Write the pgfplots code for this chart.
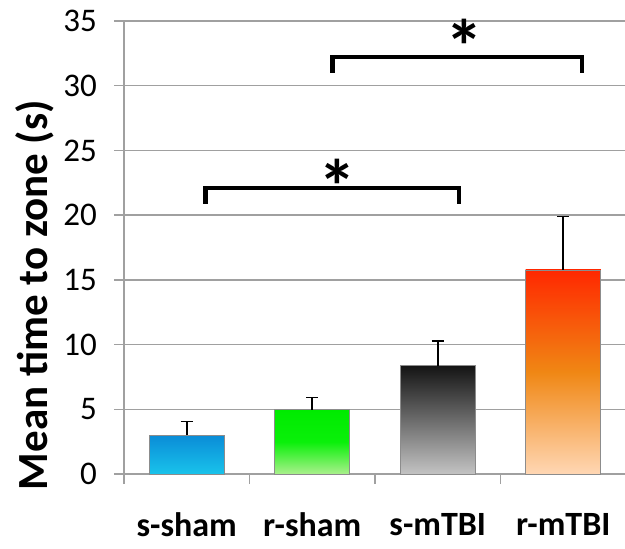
\documentclass[border=0pt]{standalone}
\usepackage{pgfplots}
\pgfplotsset{compat=1.18}
\usepackage{fontspec}
\setmainfont{Carlito}
\definecolor{gridgray}{RGB}{160,160,160}
\begin{document}
\begin{tikzpicture}
\begin{axis}[
  name=ax,
  scale only axis,
  width=251pt, height=226.5pt,
  xmin=-0.5, xmax=3.5,
  ymin=0, ymax=35,
  ytick={0,5,...,35},
  ymajorgrids,
  grid style={gridgray, line width=0.75pt},
  axis x line*=bottom, axis y line*=left,
  axis line style={gridgray, line width=0.75pt, -},
  tick align=outside,
  major tick length=5pt,
  tick style={gridgray, line width=0.75pt},
  xtick={-0.5,0.5,1.5,2.5,3.5},
  xticklabels={},
  extra x ticks={0,1,2,3},
  extra x tick labels={s-sham,r-sham,s-mTBI,r-mTBI},
  extra x tick style={major tick length=0pt, grid=none,
    xticklabel style={font=\fontsize{17}{17}\selectfont\bfseries, yshift=-16pt}},
  yticklabel style={font=\fontsize{16.5}{16.5}\selectfont, xshift=-5pt},
  /pgf/number format/assume math mode=true,
  ylabel={Mean time to zone (s)},
  ylabel style={font=\fontsize{21.5}{21.5}\selectfont\bfseries, at={(axis description cs:-0.177,0.395)}, anchor=center, rotate=0},
  ybar, bar width=0.6, bar shift=0pt,
  error bars/error bar style={black, line width=0.8pt},
  error bars/error mark options={black, rotate=90, mark size=3pt, line width=0.8pt},
  clip=false,
]
\addplot[draw=black!45, line width=0.4pt, top color={rgb,255:red,10;green,140;blue,215}, bottom color={rgb,255:red,25;green,195;blue,235},
  error bars/.cd, y dir=plus, y explicit]
  coordinates {(0,3.0) +- (0,1.05)};
\addplot[draw=black!45, line width=0.4pt, top color={rgb,255:red,0;green,235;blue,0}, bottom color={rgb,255:red,170;green,240;blue,140}, middle color={rgb,255:red,10;green,240;blue,10},
  error bars/.cd, y dir=plus, y explicit]
  coordinates {(1,4.97) +- (0,0.95)};
\addplot[draw=black!45, line width=0.4pt, top color={rgb,255:red,20;green,20;blue,20}, bottom color={rgb,255:red,195;green,195;blue,195},
  error bars/.cd, y dir=plus, y explicit]
  coordinates {(2,8.37) +- (0,1.91)};
\addplot[draw=black!45, line width=0.4pt, top color={rgb,255:red,255;green,40;blue,0}, bottom color={rgb,255:red,255;green,215;blue,180}, middle color={rgb,255:red,240;green,135;blue,20},
  error bars/.cd, y dir=plus, y explicit]
  coordinates {(3,15.77) +- (0,4.13)};
\draw[line width=2.2pt] (axis cs:0.15,20.9) -- (axis cs:0.15,22.1) -- (axis cs:2.17,22.1) -- (axis cs:2.17,20.9);
\draw[line width=2.2pt] (axis cs:1.16,31.0) -- (axis cs:1.16,32.2) -- (axis cs:3.15,32.2) -- (axis cs:3.15,31.0);
\node[font=\fontsize{38}{38}\selectfont\bfseries, anchor=center] at (axis cs:1.2,22.25) {*};
\node[font=\fontsize{38}{38}\selectfont\bfseries, anchor=center] at (axis cs:2.21,33.05) {*};
\end{axis}
\pgfresetboundingbox
\path[use as bounding box] ([xshift=-62pt,yshift=-37pt]ax.south west) rectangle ([xshift=-0.5pt,yshift=10.5pt]ax.north east);
\end{tikzpicture}
\end{document}
